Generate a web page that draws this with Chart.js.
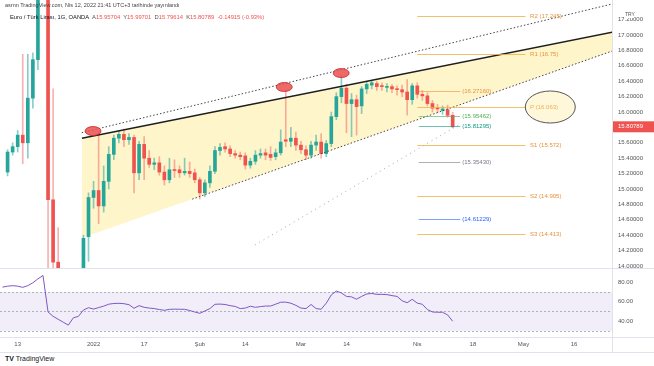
<!DOCTYPE html>
<html>
<head>
<meta charset="utf-8">
<script src="https://cdn.jsdelivr.net/npm/chart.js@4.4.1/dist/chart.umd.min.js"></script>
<style>
  body { margin: 0; width: 654px; height: 366px; background: #fff; position: relative; overflow: hidden; font-family: "Liberation Sans", "DejaVu Sans", sans-serif; }
  .wrap { position: absolute; left: 0; }
  .txt { position: absolute; white-space: nowrap; z-index: 5; }
  .line { position: absolute; background: #e0e3eb; z-index: 1; }
</style>
</head>
<body>
<div class="line" style="left:612px;top:0;width:1px;height:352px"></div>
<div class="line" style="left:0;top:268px;width:654px;height:1px"></div>
<div class="line" style="left:0;top:337px;width:654px;height:1px"></div>
<div class="line" style="left:0;top:352px;width:654px;height:1px"></div>
<div class="wrap" style="top:0;z-index:2"><canvas id="priceChart" width="654" height="268"></canvas></div>
<div class="wrap" style="top:268px;z-index:2"><canvas id="rsiChart" width="654" height="86"></canvas></div>
<div class="txt" style="left:5px;top:2px;font-size:5.5px;color:#444">asrnn TradingView.com, Nis 12, 2022 21:41 UTC+3 tarihinde yayınlandı</div>
<div class="txt" style="left:10px;top:14px;font-size:5.8px;color:#131722">Euro / Türk Lirası, 1G, OANDA&nbsp;
  <span style="color:#555">A</span><span style="color:#ef5350">15.95704</span>&nbsp;
  <span style="color:#555">Y</span><span style="color:#ef5350">15.99701</span>&nbsp;
  <span style="color:#555">D</span><span style="color:#ef5350">15.79614</span>&nbsp;
  <span style="color:#555">K</span><span style="color:#ef5350">15.80789</span>&nbsp;
  <span style="color:#ef5350">-0.14915 (-0.93%)</span></div>
<div class="txt" style="left:5px;top:355px;font-size:7px;color:#131722"><b>TV</b> TradingView</div>
<script>
// trading days (weekdays) shown on the time axis
const days = [];
for (let d = new Date(Date.UTC(2021, 11, 8)); days.length < 121; d.setUTCDate(d.getUTCDate() + 1)) {
    const wd = d.getUTCDay();
    if (wd !== 0 && wd !== 6) days.push(d.toISOString().slice(0, 10));
}

const tickText = {
    '2021-12-13': '13', '2022-01-03': '2022', '2022-01-17': '17', '2022-02-01': 'Şub',
    '2022-02-14': '14', '2022-03-01': 'Mar', '2022-03-14': '14', '2022-04-01': 'Nis',
    '2022-04-18': '18', '2022-05-02': 'May', '2022-05-16': '16'
};

// daily candles, EUR/TRY
const opens = [null,
    15.22, 15.48, 15.55, 15.70, 15.60, 16.18, 16.68, 18.40, 19.20, 14.86,
    14.05, 13.60, 12.90, 13.30, 13.50, 13.85, 14.38, 14.89, 14.98, 14.78,
    15.10, 15.45, 15.66, 15.71, 15.64, 15.67, 15.21, 15.58, 15.40, 15.32,
    15.34, 15.22, 15.12, 15.25, 15.25, 15.21, 15.23, 15.21, 15.12, 14.95,
    15.08, 15.23, 15.50, 15.55, 15.52, 15.46, 15.44, 15.43, 15.31, 15.36,
    15.44, 15.47, 15.45, 15.42, 15.47, 15.64, 15.62, 15.66, 15.57, 15.51,
    15.44, 15.57, 15.61, 15.46, 15.59, 15.94, 16.20, 16.31, 16.11, 16.16,
    16.08, 16.30, 16.35, 16.37, 16.34, 16.32, 16.33, 16.30, 16.29, 16.26,
    16.16, 16.34, 16.23, 16.21, 16.11, 16.05, 16.02, 16.03, 15.95704];
const highs = [null,
    15.51, 15.60, 15.76, 16.75, 16.75, 16.77, 18.60, 19.50, 20.80, 16.30,
    14.50, 13.90, 13.60, 13.85, 13.90, 14.40, 14.95, 15.10, 15.75, 15.30,
    15.55, 15.70, 15.76, 15.78, 15.72, 15.70, 15.62, 15.68, 15.50, 15.40,
    15.42, 15.30, 15.40, 15.38, 15.30, 15.40, 15.35, 15.26, 15.15, 15.12,
    15.30, 15.55, 15.59, 15.60, 15.56, 15.50, 15.48, 15.47, 15.40, 15.50,
    15.52, 15.52, 15.55, 15.52, 15.77, 16.28, 15.80, 15.74, 15.62, 15.56,
    15.62, 15.70, 15.72, 15.63, 16.00, 16.25, 16.48, 16.36, 16.24, 16.22,
    16.33, 16.40, 16.41, 16.40, 16.38, 16.37, 16.36, 16.34, 16.35, 16.42,
    16.37, 16.38, 16.28, 16.25, 16.15, 16.10, 16.08, 16.09, 15.99701];
const lows = [null,
    15.17, 15.44, 15.48, 15.33, 15.40, 16.05, 16.55, 17.60, 13.50, 13.30,
    13.20, 12.40, 11.80, 13.00, 13.10, 13.70, 14.06, 14.75, 14.55, 14.70,
    15.00, 15.38, 15.60, 15.55, 15.58, 14.95, 15.12, 15.12, 15.28, 15.25,
    15.18, 15.05, 15.08, 15.15, 15.15, 15.18, 15.15, 15.08, 14.87, 14.90,
    15.02, 15.20, 15.44, 15.48, 15.42, 15.40, 15.38, 15.26, 15.27, 15.32,
    15.40, 15.38, 15.37, 15.38, 15.44, 15.55, 15.55, 15.50, 15.46, 15.38,
    15.40, 15.50, 15.40, 15.42, 15.55, 15.90, 16.12, 15.73, 15.68, 15.70,
    15.98, 16.24, 16.30, 16.28, 16.28, 16.26, 16.25, 16.22, 16.20, 15.96,
    16.10, 16.18, 16.15, 16.08, 16.00, 15.99, 15.97, 15.93, 15.79614];
const closes = [null,
    15.48, 15.55, 15.70, 15.60, 16.18, 16.68, 18.40, 19.20, 14.86, 14.05,
    13.60, 12.90, 13.30, 13.50, 13.80, 14.36, 14.89, 14.98, 14.78, 15.10,
    15.45, 15.66, 15.71, 15.64, 15.67, 15.21, 15.58, 15.40, 15.32, 15.34,
    15.22, 15.12, 15.25, 15.24, 15.21, 15.23, 15.20, 15.12, 14.95, 15.08,
    15.23, 15.50, 15.54, 15.52, 15.46, 15.44, 15.42, 15.31, 15.36, 15.44,
    15.46, 15.44, 15.41, 15.47, 15.61, 15.62, 15.66, 15.57, 15.51, 15.44,
    15.57, 15.61, 15.46, 15.59, 15.94, 16.20, 16.31, 16.11, 16.16, 16.07,
    16.30, 16.36, 16.38, 16.33, 16.33, 16.33, 16.30, 16.29, 16.26, 16.16,
    16.34, 16.23, 16.21, 16.11, 16.05, 16.04, 16.04, 15.957, 15.80789];

// RSI (14)
const rsiValues = [
    75.0, 76.0, 76.5, 76.0, 74.8, 76.5, 79.5, 83.5, 87.0, 49.5,
    45.0, 42.0, 39.0, 36.0, 43.5, 45.0, 51.5, 53.9, 52.5, 54.0,
    55.5, 57.5, 58.2, 58.4, 58.0, 57.0, 53.3, 56.0, 54.3, 53.5,
    53.0, 52.0, 51.2, 52.2, 52.4, 52.3, 52.2, 51.0, 49.5, 48.1,
    50.5, 53.0, 57.4, 57.6, 57.2, 56.0, 55.2, 53.0, 53.5, 55.4,
    54.3, 55.0, 55.6, 55.6, 57.5, 59.5, 59.6, 58.5, 56.3, 53.5,
    53.0, 57.2, 53.0, 52.3, 58.5, 67.0, 71.0, 69.0, 65.5, 65.0,
    62.6, 65.5, 68.0, 68.5, 67.6, 67.6, 67.3, 66.3, 65.5, 61.0,
    59.0, 62.5, 58.6, 57.4, 52.0, 49.5, 49.2, 49.2, 46.5, 40.0];

// pivot points and price levels
const pivotNames = ['R2', 'R1', 'P', 'S1', 'S2', 'S3'];
const pivotValues = [17.245, 16.75, 16.063, 15.572, 14.905, 14.413];
const levelValues = [16.27160, 15.95462, 15.81295, 15.35430, 14.61229];
const levelColors = ['#e8913a', '#4caf50', '#089981', '#787b86', '#2962ff'];

// wedge drawing anchors: [bar index, price]
const wedgeTop = [[15.7, 15.66], [116.2, 16.98]];
const wedgeBottom = [[16.3, 14.377], [116.2, 16.692]];
const channelTop = [[15.66, 15.731], [115.6, 17.325]];
const supportDots = [[49.9, 14.273], [90.5, 15.844]];
const touchMarks = [[17.9, 15.753], [55.7, 16.325], [66.96, 16.506]];

const GREEN = '#26a69a';
const RED = '#ef5350';

const bodies = opens.map((o, i) => o == null ? null : [o, closes[i]]);
const wicks = lows.map((l, i) => l == null ? null : [l, highs[i]]);
const bodyColors = opens.map((o, i) => closes[i] >= o ? GREEN : RED);
const wickColors = opens.map((o, i) => closes[i] >= o ? 'rgba(38,166,154,0.55)' : 'rgba(239,83,80,0.45)');

function priceAt(line, idx) {
    const [a, b] = line;
    return a[1] + (b[1] - a[1]) * (idx - a[0]) / (b[0] - a[0]);
}

const drawings = {
    id: 'drawings',
    beforeDatasetsDraw(chart) {
        const {ctx, chartArea: a, scales: {x, y}} = chart;
        ctx.save();
        ctx.beginPath();
        ctx.rect(a.left, a.top, a.width, a.height);
        ctx.clip();
        const end = 123;
        ctx.fillStyle = 'rgba(255, 232, 140, 0.45)';
        ctx.beginPath();
        ctx.moveTo(x.getPixelForValue(wedgeTop[0][0]), y.getPixelForValue(wedgeTop[0][1]));
        ctx.lineTo(x.getPixelForValue(end), y.getPixelForValue(priceAt(wedgeTop, end)));
        ctx.lineTo(x.getPixelForValue(end), y.getPixelForValue(priceAt(wedgeBottom, end)));
        ctx.lineTo(x.getPixelForValue(wedgeTop[0][0]), y.getPixelForValue(priceAt(wedgeBottom, wedgeTop[0][0])));
        ctx.closePath();
        ctx.fill();
        ctx.restore();
    },
    afterDatasetsDraw(chart) {
        const {ctx, chartArea: a, scales: {x, y}} = chart;
        const end = 123;
        const seg = (line, from, to, color, width, dash) => {
            ctx.strokeStyle = color;
            ctx.lineWidth = width;
            ctx.setLineDash(dash);
            ctx.beginPath();
            ctx.moveTo(x.getPixelForValue(from), y.getPixelForValue(priceAt(line, from)));
            ctx.lineTo(x.getPixelForValue(to), y.getPixelForValue(priceAt(line, to)));
            ctx.stroke();
        };
        ctx.save();
        ctx.beginPath();
        ctx.rect(a.left, a.top, a.width, a.height);
        ctx.clip();
        seg(wedgeTop, wedgeTop[0][0], end, '#1e1e1e', 1.6, []);
        seg(channelTop, channelTop[0][0], end, '#444', 1, [1.5, 2]);
        seg(wedgeBottom, 37.5, end, '#444', 1, [1.5, 2]);
        seg(supportDots, supportDots[0][0], supportDots[1][0], 'rgba(110,130,175,0.7)', 1, [1, 4]);

        // horizontal levels
        ctx.setLineDash([]);
        ctx.lineWidth = 1;
        ctx.font = '6px "Liberation Sans", sans-serif';
        ctx.textBaseline = 'middle';
        pivotValues.forEach((v, i) => {
            const yy = Math.round(y.getPixelForValue(v)) + 0.5;
            ctx.strokeStyle = 'rgba(240,176,70,0.8)';
            ctx.beginPath();
            ctx.moveTo(x.getPixelForValue(82), yy);
            ctx.lineTo(x.getPixelForValue(103.4), yy);
            ctx.stroke();
            ctx.fillStyle = '#e8913a';
            ctx.fillText(pivotNames[i] + ' (' + v + ')', x.getPixelForValue(104.3), yy);
        });
        levelValues.forEach((v, i) => {
            const yy = Math.round(y.getPixelForValue(v)) + 0.5;
            ctx.strokeStyle = levelColors[i];
            ctx.globalAlpha = 0.6;
            ctx.beginPath();
            ctx.moveTo(x.getPixelForValue(82.3), yy);
            ctx.lineTo(x.getPixelForValue(90.5), yy);
            ctx.stroke();
            ctx.globalAlpha = 1;
            ctx.fillStyle = levelColors[i];
            ctx.fillText('(' + v.toFixed(5) + ')', x.getPixelForValue(90.9), yy);
        });

        // marks
        touchMarks.forEach(([i, v]) => {
            ctx.beginPath();
            ctx.ellipse(x.getPixelForValue(i), y.getPixelForValue(v), 8, 4.5, 0, 0, Math.PI * 2);
            ctx.fillStyle = 'rgba(235,80,80,0.85)';
            ctx.fill();
            ctx.strokeStyle = '#c62828';
            ctx.lineWidth = 0.8;
            ctx.stroke();
        });
        ctx.beginPath();
        ctx.ellipse(x.getPixelForValue(108.3), y.getPixelForValue(16.065), 25, 16, 0, 0, Math.PI * 2);
        ctx.fillStyle = 'rgba(255,232,150,0.35)';
        ctx.fill();
        ctx.strokeStyle = '#555';
        ctx.lineWidth = 1;
        ctx.stroke();
        ctx.restore();

        // last price tag on the axis
        const last = closes[closes.length - 1];
        const ly = y.getPixelForValue(last);
        ctx.save();
        ctx.fillStyle = RED;
        ctx.fillRect(a.right + 1, ly - 5.5, 41, 11);
        ctx.fillStyle = '#fff';
        ctx.font = '6px "Liberation Sans", sans-serif';
        ctx.textBaseline = 'middle';
        ctx.fillText(last.toFixed(5), a.right + 6, ly);
        ctx.fillStyle = '#fff';
        ctx.fillRect(a.right + 12, 12, 10, 6);
        ctx.fillStyle = '#555';
        ctx.font = '5px "Liberation Sans", sans-serif';
        ctx.fillText('TRY', a.right + 13, 15);
        ctx.restore();
    }
};

const rsiBand = {
    id: 'rsiBand',
    beforeDatasetsDraw(chart) {
        const {ctx, chartArea: a, scales: {y}} = chart;
        const y70 = y.getPixelForValue(70);
        const y30 = y.getPixelForValue(30);
        ctx.save();
        ctx.fillStyle = 'rgba(126,87,194,0.1)';
        ctx.fillRect(a.left, y70, a.width, y30 - y70);
        ctx.strokeStyle = 'rgba(120,123,134,0.55)';
        ctx.setLineDash([2, 2]);
        ctx.lineWidth = 1;
        [70, 50, 30].forEach(v => {
            const yy = Math.round(y.getPixelForValue(v)) + 0.5;
            ctx.beginPath();
            ctx.moveTo(a.left, yy);
            ctx.lineTo(a.right, yy);
            ctx.stroke();
        });
        ctx.restore();
    }
};

new Chart(document.getElementById('priceChart'), {
    type: 'bar',
    data: {
        labels: days,
        datasets: [{
            data: wicks,
            backgroundColor: wickColors,
            barThickness: 1,
            grouped: false,
            order: 2
        }, {
            data: bodies,
            backgroundColor: bodyColors,
            barThickness: 3,
            minBarLength: 1,
            grouped: false,
            order: 1
        }]
    },
    options: {
        responsive: false,
        animation: false,
        events: [],
        layout: { padding: 0 },
        plugins: { legend: { display: false }, tooltip: { enabled: false } },
        scales: {
            x: { display: false, offset: true },
            y: {
                position: 'right',
                min: 13.974,
                max: 17.455,
                grid: { display: false, drawTicks: false },
                border: { display: false },
                ticks: {
                    stepSize: 0.2,
                    includeBounds: false,
                    padding: 6,
                    color: '#555',
                    font: { size: 6, family: '"Liberation Sans", sans-serif' },
                    callback: v => v > 17.3 ? '' : v.toFixed(5)
                },
                afterFit(s) { s.width = 42; s.paddingTop = 0; s.paddingBottom = 0; }
            }
        }
    },
    plugins: [drawings]
});

new Chart(document.getElementById('rsiChart'), {
    type: 'line',
    data: {
        labels: days,
        datasets: [{
            data: rsiValues,
            borderColor: '#7e57c2',
            borderWidth: 1,
            pointRadius: 0,
            tension: 0,
            fill: false
        }]
    },
    options: {
        responsive: false,
        animation: false,
        events: [],
        layout: { padding: { top: 2 } },
        plugins: { legend: { display: false }, tooltip: { enabled: false } },
        scales: {
            x: {
                offset: true,
                grid: { display: false, drawTicks: false },
                border: { display: false },
                ticks: {
                    autoSkip: false,
                    maxRotation: 0,
                    minRotation: 0,
                    padding: 4,
                    color: '#555',
                    font: { size: 6, family: '"Liberation Sans", sans-serif' },
                    callback: (v, i) => tickText[days[i]] || ''
                },
                afterFit(s) { s.height = 17; s.paddingLeft = 0; s.paddingRight = 0; }
            },
            y: {
                position: 'right',
                min: 23.8,
                max: 92.6,
                grid: { display: false, drawTicks: false },
                border: { display: false },
                ticks: {
                    stepSize: 20,
                    includeBounds: false,
                    padding: 6,
                    color: '#555',
                    font: { size: 6, family: '"Liberation Sans", sans-serif' },
                    callback: v => v.toFixed(2)
                },
                afterFit(s) { s.width = 42; s.paddingTop = 0; s.paddingBottom = 0; }
            }
        }
    },
    plugins: [rsiBand]
});
</script>
</body>
</html>
